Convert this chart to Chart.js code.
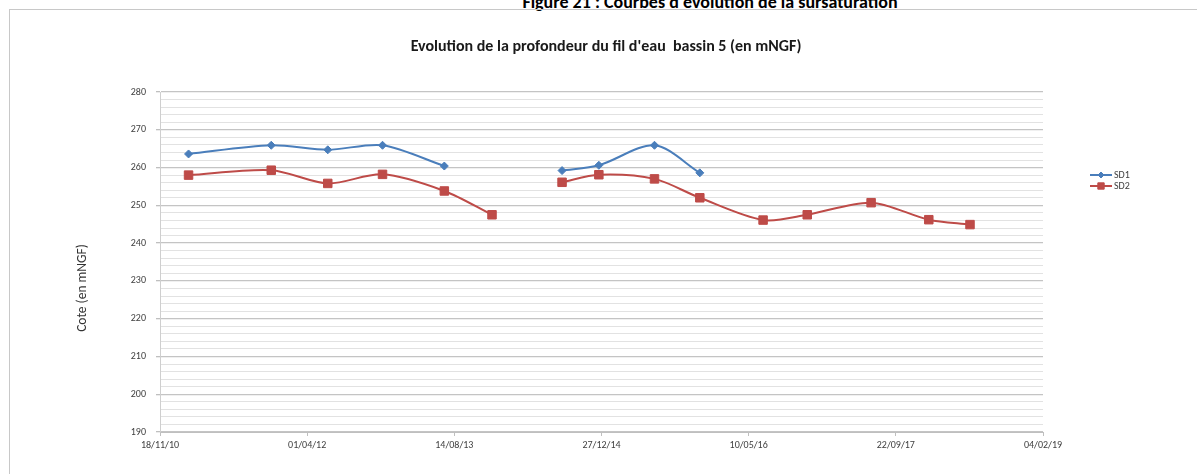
<!DOCTYPE html>
<html>
<head>
<meta charset="utf-8">
<script src="https://cdn.jsdelivr.net/npm/chart.js@4/dist/chart.umd.min.js"></script>
<style>
  html, body { margin: 0; padding: 0; background: #fff; overflow: hidden; }
  body { width: 1197px; height: 474px; position: relative; }
  #frame { position: absolute; left: 9px; top: 9px; width: 1300px; height: 600px; border: 1px solid #c8c8c8; }
  #fig { position: absolute; left: 710px; top: -7px; transform: translateX(-50%); white-space: nowrap;
         font: bold 18px Carlito, "Liberation Sans Narrow", "Open Sans", sans-serif; line-height: 18px; color: #000; }
  #wrap { position: absolute; left: 0; top: 0; width: 1197px; height: 474px; }
</style>
</head>
<body>
<div id="fig">Figure 21 : Courbes d'évolution de la sursaturation</div>
<div id="frame"></div>
<div id="wrap"><canvas id="chart"></canvas></div>
<script>
const FONT = 'Carlito, "Liberation Sans Narrow", "Open Sans", sans-serif';

const chartTitle = "Evolution de la profondeur du fil d'eau  bassin 5 (en mNGF)";
const yTitle = "Cote (en mNGF)";

// measurement dates (one empty row where the series break)
const dates = ["2011-02-23", "2011-12-01", "2012-06-10", "2012-12-13", "2013-07-11", "2013-12-20",
               "2014-04-01",
               "2014-08-15", "2014-12-18", "2015-06-25", "2015-11-26", "2016-06-28", "2016-11-25",
               "2017-06-30", "2018-01-12", "2018-06-01"];
const sd1 = [263.6, 265.9, 264.7, 265.9, 260.4, null,
             null,
             259.2, 260.6, 265.9, 258.6, null, null, null, null, null];
const sd2 = [258.0, 259.3, 255.8, 258.2, 253.8, 247.5,
             null,
             256.1, 258.1, 257.0, 252.0, 246.1, 247.5, 250.7, 246.2, 244.9];

const xMin = 40500, xMax = 43500, xStep = 500;   // excel serial days
const yMin = 190, yMax = 280;

function serial(iso) {
    const p = iso.split("-").map(Number);
    return (Date.UTC(p[0], p[1] - 1, p[2]) - Date.UTC(1899, 11, 30)) / 86400000;
}
function fmtDate(v) {
    const d = new Date(Date.UTC(1899, 11, 30) + v * 86400000);
    const two = n => String(n).padStart(2, "0");
    return two(d.getUTCDate()) + "/" + two(d.getUTCMonth() + 1) + "/" + two(d.getUTCFullYear() % 100);
}
function pts(values) {
    return dates.map((d, i) => ({ x: serial(d), y: values[i] }));
}

// title, axis title and legend drawn at their place in the original
const extras = {
    id: "extras",
    afterDraw(chart) {
        const ctx = chart.ctx;
        ctx.save();
        ctx.fillStyle = "#1a1a1a";
        ctx.font = "bold 16px " + FONT;
        ctx.textAlign = "center";
        ctx.textBaseline = "middle";
        ctx.fillText(chartTitle, 606, 47);

        ctx.save();
        ctx.translate(83, 288);
        ctx.rotate(-Math.PI / 2);
        ctx.font = "13.5px " + FONT;
        ctx.fillStyle = "#333";
        ctx.fillText(yTitle, 0, 0);
        ctx.restore();

        ctx.font = "10px " + FONT;
        ctx.textAlign = "left";
        chart.data.datasets.forEach((ds, i) => {
            const y = 175 + i * 11;
            ctx.strokeStyle = ds.borderColor;
            ctx.lineWidth = 2;
            ctx.beginPath();
            ctx.moveTo(1090, y);
            ctx.lineTo(1112, y);
            ctx.stroke();
            ctx.fillStyle = ds.backgroundColor;
            ctx.lineWidth = 1;
            Chart.helpers.drawPoint(ctx, {
                pointStyle: ds.pointStyle, radius: ds.pointRadius * 0.75, rotation: 0, borderWidth: 1
            }, 1101, y);
            ctx.fillStyle = "#404040";
            ctx.fillText(ds.label, 1114, y);
        });
        ctx.restore();
    }
};

const ctx = document.getElementById("chart");

new Chart(ctx, {
    type: "line",
    data: {
        datasets: [
            {
                label: "SD1",
                data: pts(sd1),
                borderColor: "#4a7ebb",
                backgroundColor: "#4a7ebb",
                borderWidth: 2,
                pointStyle: "rectRot",
                pointRadius: 4,
                pointBorderWidth: 1,
                tension: 0.3,
                spanGaps: false,
            },
            {
                label: "SD2",
                data: pts(sd2),
                borderColor: "#be4b48",
                backgroundColor: "#be4b48",
                borderWidth: 2,
                pointStyle: "rect",
                pointRadius: 6,
                pointBorderWidth: 1,
                tension: 0.3,
                spanGaps: false,
            },
        ],
    },
    options: {
        responsive: true,
        maintainAspectRatio: false,
        animation: false,
        layout: { padding: { top: 92, right: 154, bottom: 0, left: 0 } },
        plugins: {
            legend: { display: false },
            title: { display: false },
            tooltip: { enabled: false },
        },
        scales: {
            x: {
                type: "linear",
                min: xMin,
                max: xMax,
                afterFit: s => { s.height = 42; },
                afterBuildTicks: s => {
                    s.ticks = [];
                    for (let v = xMin; v <= xMax; v += xStep) s.ticks.push({ value: v });
                },
                ticks: {
                    callback: v => fmtDate(v),
                    font: { family: FONT, size: 10 },
                    color: "#404040",
                    maxRotation: 0,
                    autoSkip: false,
                    padding: 3,
                },
                grid: { drawOnChartArea: false, drawTicks: true, tickLength: 4, color: "#bfbfbf" },
                border: { display: true, color: "#bfbfbf" },
            },
            y: {
                min: yMin,
                max: yMax,
                afterFit: s => { s.width = 160; },
                ticks: {
                    stepSize: 2,
                    autoSkip: false,
                    callback: v => (v % 10 === 0 ? v : ""),
                    font: { family: FONT, size: 10 },
                    color: "#404040",
                    padding: 10,
                },
                grid: {
                    color: c => (c.tick && c.tick.value % 10 === 0 ? "#c4c4c4" : "#e2e2e2"),
                    lineWidth: c => (c.tick && c.tick.value % 10 === 0 ? 1.3 : 1),
                    tickColor: c => (c.tick && c.tick.value % 10 === 0 ? "#bfbfbf" : "rgba(0,0,0,0)"),
                    tickLength: 4,
                },
                border: { display: true, color: "#cfcfcf" },
            },
        },
    },
    plugins: [extras],
});
</script>
</body>
</html>
